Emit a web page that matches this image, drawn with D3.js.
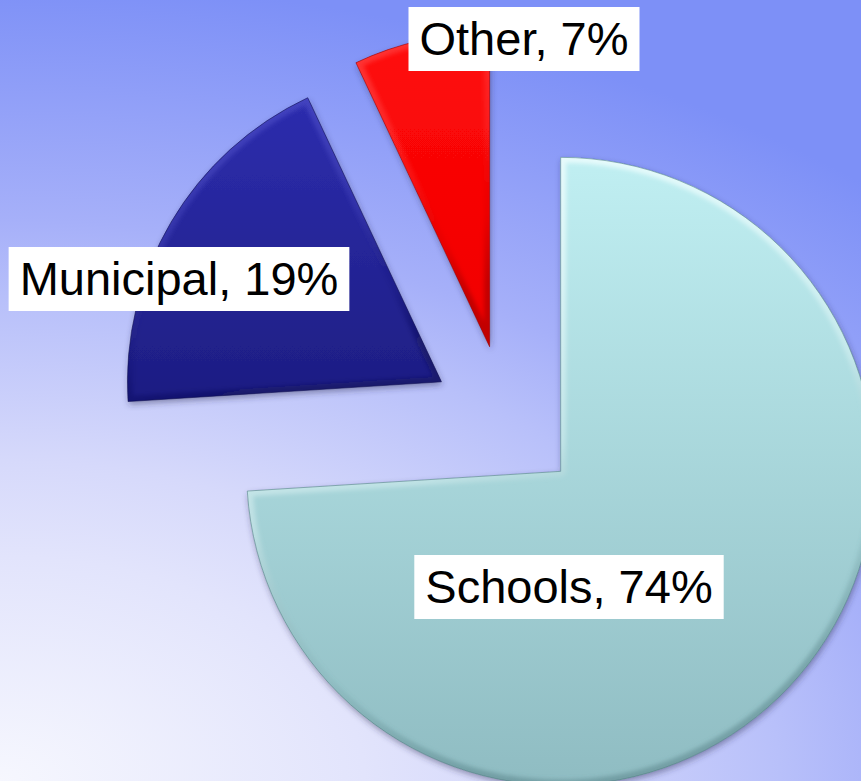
<!DOCTYPE html>
<html>
<head>
<meta charset="utf-8">
<script src="https://cdn.jsdelivr.net/npm/d3@7"></script>
<style>
  html, body { margin: 0; padding: 0; background: #fff; }
  svg { display: block; }
</style>
</head>
<body>
<div id="chart"></div>
<script>
// data
var categories = ["Schools", "Municipal", "Other"];
var shares = [74, 19, 7];
var labelText = ["Schools, 74%", "Municipal, 19%", "Other, 7%"];

var width = 861, height = 781;
var cx = 506, cy = 420;      // centre of the pie before explosion
var radius = 314;
var explode = 75;

// look of each slice: top colour, bottom colour, edge colour
var sliceStyle = [
  { top: "#c0eff2", bottom: "#8fbcc2", edge: "#4f7b80", light: "#f4ffff", lo: 0.9 },
  { top: "#2d2dae", bottom: "#1d1d82", edge: "#10104e", light: "#5a5ad0", lo: 0.6 },
  { top: "#ff0a0a", bottom: "#f00000", edge: "#8a0000", light: "#ff6060", lo: 0.5 }
];
// label boxes: centre x and top y
var labelLayout = [
  { x: 569, y: 555 },
  { x: 179, y: 247 },
  { x: 524, y: 7 }
];

var svg = d3.select("#chart")
  .append("svg")
  .attr("width", width)
  .attr("height", height);

var defs = svg.append("defs");

// background: soft elliptical gradient, white at bottom left, blue at top right
var bg = defs.append("radialGradient")
  .attr("id", "bg")
  .attr("gradientUnits", "userSpaceOnUse")
  .attr("cx", 0).attr("cy", height).attr("r", 800)
  .attr("gradientTransform", "translate(0," + height + ") scale(1.625,1) translate(0," + (-height) + ")");
[[0, "#f6f7fe"], [0.28, "#e2e4fc"], [0.4, "#d6d9fb"], [0.6, "#b8c0fa"],
 [0.7, "#a6b0f9"], [1, "#7d90f7"]].forEach(function(s) {
  bg.append("stop").attr("offset", s[0]).attr("stop-color", s[1]);
});

svg.append("rect")
  .attr("width", width)
  .attr("height", height)
  .attr("fill", "url(#bg)");

// filters
var shadow = defs.append("filter").attr("id", "shadow")
  .attr("x", "-10%").attr("y", "-10%").attr("width", "120%").attr("height", "120%");
shadow.append("feDropShadow")
  .attr("dx", 1).attr("dy", 3).attr("stdDeviation", 3)
  .attr("flood-color", "#2a2a55").attr("flood-opacity", 0.45);

var soft = defs.append("filter").attr("id", "soft")
  .attr("x", "-10%").attr("y", "-10%").attr("width", "120%").attr("height", "120%");
soft.append("feGaussianBlur").attr("stdDeviation", 2.2);

var pie = d3.pie().sort(null).value(function(d) { return d; });
var arcs = pie(shares);
var arc = d3.arc().innerRadius(0).outerRadius(radius);

arcs.forEach(function(a, i) {
  var st = sliceStyle[i];
  var g1 = defs.append("linearGradient").attr("id", "fill" + i)
    .attr("x1", 0).attr("y1", 0).attr("x2", 0).attr("y2", 1);
  g1.append("stop").attr("offset", 0).attr("stop-color", st.top);
  g1.append("stop").attr("offset", 1).attr("stop-color", st.bottom);

  var g2 = defs.append("linearGradient").attr("id", "edge" + i)
    .attr("x1", 0).attr("y1", 0).attr("x2", 0.3).attr("y2", 1);
  g2.append("stop").attr("offset", 0).attr("stop-color", st.light).attr("stop-opacity", st.lo);
  g2.append("stop").attr("offset", 0.55).attr("stop-color", st.light).attr("stop-opacity", st.lo * 0.35);
  g2.append("stop").attr("offset", 0.8).attr("stop-color", st.edge).attr("stop-opacity", 0.1);
  g2.append("stop").attr("offset", 1).attr("stop-color", st.edge).attr("stop-opacity", 0.45);

  defs.append("clipPath").attr("id", "clip" + i)
    .append("path").attr("d", arc(a));
});

var slices = svg.selectAll(".slice")
  .data(arcs)
  .enter().append("g")
  .attr("class", "slice")
  .attr("transform", function(d) {
    var mid = (d.startAngle + d.endAngle) / 2;
    var x = cx + Math.sin(mid) * explode;
    var y = cy - Math.cos(mid) * explode;
    return "translate(" + x + "," + y + ")";
  });

slices.append("path")
  .attr("d", arc)
  .attr("fill", function(d, i) { return "url(#fill" + i + ")"; })
  .attr("filter", "url(#shadow)");

// bevel highlight along the edges
slices.append("g")
  .attr("clip-path", function(d, i) { return "url(#clip" + i + ")"; })
  .append("path")
  .attr("d", arc)
  .attr("fill", "none")
  .attr("stroke", function(d, i) { return "url(#edge" + i + ")"; })
  .attr("stroke-width", 11)
  .attr("stroke-linejoin", "round")
  .attr("filter", "url(#soft)");

slices.append("path")
  .attr("d", arc)
  .attr("fill", "none")
  .attr("stroke", function(d, i) { return sliceStyle[i].edge; })
  .attr("stroke-opacity", 0.55)
  .attr("stroke-width", 1);

// labels in white boxes
var labels = svg.selectAll(".label")
  .data(labelText)
  .enter().append("g")
  .attr("class", "label");

labels.each(function(t, i) {
  var g = d3.select(this);
  var box = g.append("rect").attr("fill", "#ffffff");
  var txt = g.append("text")
    .text(t)
    .attr("font-family", "'Liberation Sans', Arial, sans-serif")
    .attr("font-size", "47px")
    .attr("fill", "#000")
    .attr("text-anchor", "middle")
    .attr("x", labelLayout[i].x)
    .attr("y", labelLayout[i].y + 48);
  var w = txt.node().getComputedTextLength() + 22;
  box.attr("x", labelLayout[i].x - w / 2)
    .attr("y", labelLayout[i].y)
    .attr("width", w)
    .attr("height", 64);
});
</script>
</body>
</html>
